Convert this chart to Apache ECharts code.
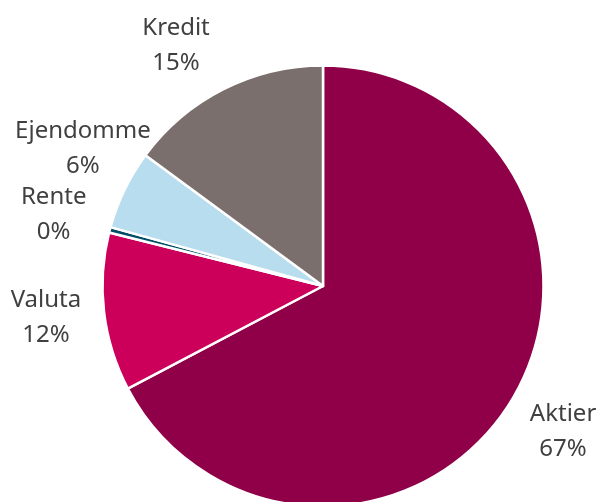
<!DOCTYPE html>
<html><head><meta charset="utf-8">
<script src="https://cdn.jsdelivr.net/npm/echarts@6/dist/echarts.min.js"></script>
<style>html,body{margin:0;padding:0;background:#fff}#c{width:598px;height:502px}</style>
</head><body><div id="c"></div>
<script>
const categories = ['Aktier', 'Valuta', 'Rente', 'Ejendomme', 'Kredit'];
const values = [67.3, 11.6, 0.4, 5.8, 14.9];
const colors = ['#900048', '#CC005B', '#004E66', '#B8DDEE', '#7A6F6D'];

// label placement (Excel-like "outside end"), with small per-label nudges
const CX = 323, CY = 286, R = 220.5, GAP = 20;
const labelNudge = [[1, -14], [-3, -5], [-4, 8], [44, -2], [-8, 9]];

const total = values.reduce((a, b) => a + b, 0);
const midAngles = [];
{ let cum = 0; values.forEach(v => { midAngles.push((cum + v / 2) / total * 2 * Math.PI); cum += v; }); }
const clamp = v => Math.max(-1, Math.min(1, v));

const chart = echarts.init(document.getElementById('c'), null, {renderer: 'canvas'});
chart.setOption({
  animation: false,
  series: [{
    type: 'pie',
    center: [CX, CY],
    radius: R,
    startAngle: 90,
    clockwise: true,
    avoidLabelOverlap: false,
    data: categories.map((n, i) => ({name: n, value: values[i], itemStyle: {color: colors[i]}})),
    itemStyle: {borderColor: '#fff', borderWidth: 2.5},
    label: {
      show: true,
      position: 'outside',
      formatter: p => p.name + '\n' + Math.round(p.value) + '%',
      fontFamily: 'Noto Sans',
      fontSize: 24,
      lineHeight: 35,
      color: '#404040'
    },
    labelLine: {show: false, length: 14, length2: 0},
    labelLayout: function (p) {
      const i = p.dataIndex;
      const a = midAngles[i];
      const ux = Math.sin(a), uy = -Math.cos(a);
      const w = p.labelRect.width, h = p.labelRect.height;
      const ax = CX + (R + GAP) * ux, ay = CY + (R + GAP) * uy;
      const x = ax + w / 2 * clamp(ux / 0.5) + labelNudge[i][0];
      const y = ay + h / 2 * clamp(uy / 0.5) + labelNudge[i][1];
      return {x: x, y: y, align: 'center', verticalAlign: 'middle'};
    }
  }]
});
</script></body></html>
